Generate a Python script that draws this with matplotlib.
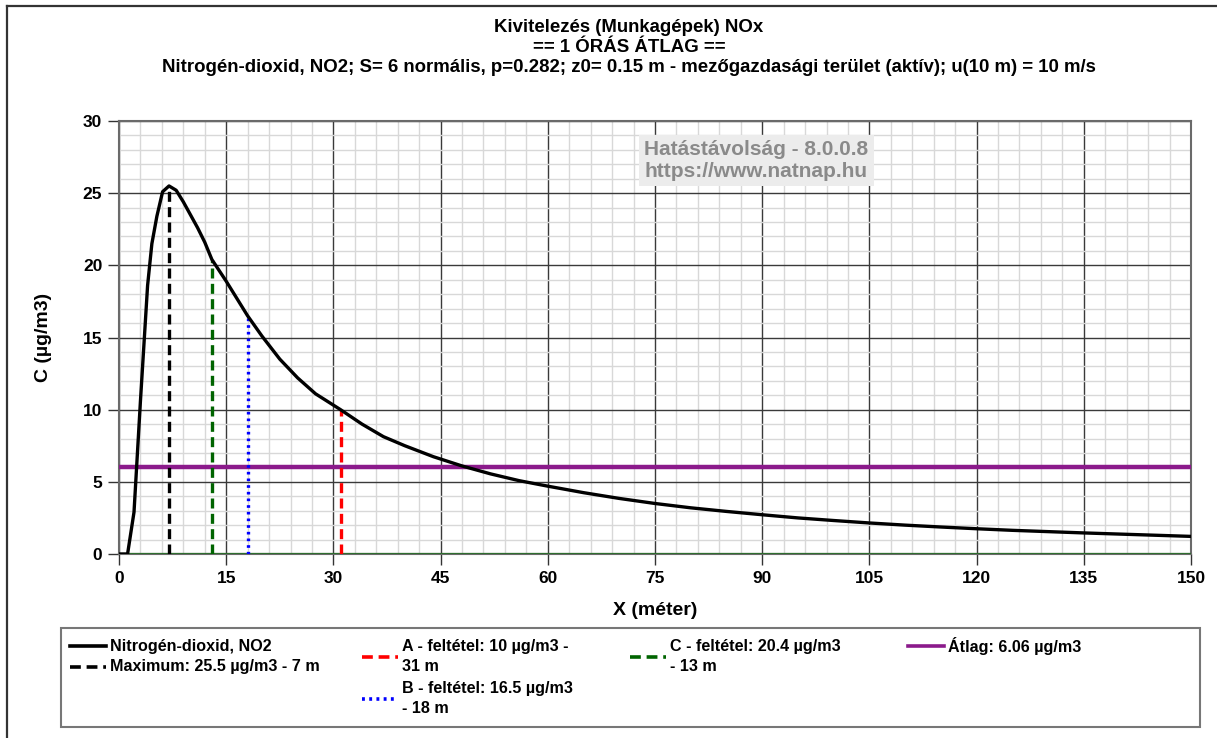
import matplotlib

matplotlib.use("Agg")
import matplotlib.pyplot as plt
from matplotlib.lines import Line2D
from matplotlib.patches import Rectangle
from matplotlib.ticker import MultipleLocator

plt.rcParams["font.family"] = ["Liberation Sans", "DejaVu Sans"]
plt.rcParams["font.weight"] = "bold"

# Concentration curve (distance in m, C in ug/m3)
dist_m = [0, 1.2, 2.1, 3.0, 4.0, 4.6, 5.3, 6.1, 7.0, 8.0, 9.0, 10.0, 11.0, 12.0,
          13.0, 15, 18, 20, 22.5, 25, 27.5, 31, 34, 37, 40, 44, 48, 52, 56, 60,
          65, 70, 75, 80, 85, 90, 95, 100, 105, 110, 115, 120, 125, 130, 135,
          140, 145, 150]
conc = [0, 0, 2.9, 10.6, 18.6, 21.5, 23.4, 25.1, 25.5, 25.2, 24.4, 23.5, 22.6,
        21.6, 20.4, 18.9, 16.5, 15.1, 13.5, 12.2, 11.1, 10.0, 9.0, 8.13, 7.5,
        6.74, 6.1, 5.55, 5.08, 4.7, 4.25, 3.85, 3.5, 3.2, 2.95, 2.72, 2.5, 2.32,
        2.15, 2.0, 1.87, 1.75, 1.64, 1.55, 1.46, 1.38, 1.3, 1.22]

max_x, max_c = 7, 25.5
cond_names = ["A", "B", "C"]
cond_x = [31, 18, 13]
cond_c = [10, 16.5, 20.4]
avg_c = 6.06

x_ticks = [0, 15, 30, 45, 60, 75, 90, 105, 120, 135, 150]
y_ticks = [0, 5, 10, 15, 20, 25, 30]

title_lines = [
    "Kivitelezés (Munkagépek) NOx",
    "== 1 ÓRÁS ÁTLAG ==",
    "Nitrogén-dioxid, NO2; S= 6 normális, p=0.282; z0= 0.15 m - "
    "mezőgazdasági terület (aktív); u(10 m) = 10 m/s",
]

W, H = 1217, 738
fig = plt.figure(figsize=(W / 100, H / 100), dpi=100)


def fx(px):
    return px / W


def fy(py):
    return 1 - py / H


# outer frame (only left/top edges visible in the reference crop)
fig.add_artist(Line2D([fx(7), fx(7)], [fy(6), 0], color="#333333", lw=1.6))
fig.add_artist(Line2D([fx(7), 1], [fy(6), fy(6)], color="#333333", lw=1.6))

ax = fig.add_axes([fx(119), fy(554), fx(1191) - fx(119), fy(121) - fy(554)])
ax.set_xlim(0, 150)
ax.set_ylim(0, 30)
ax.set_xticks(x_ticks)
ax.set_yticks(y_ticks)
ax.xaxis.set_minor_locator(MultipleLocator(3))
ax.yaxis.set_minor_locator(MultipleLocator(1))
ax.grid(which="minor", color="#d8d8d8", lw=1.0)
ax.grid(which="major", color="#3a3a3a", lw=1.0)
ax.set_axisbelow(True)
ax.tick_params(which="major", length=8, width=1, labelsize=12.5, pad=4, color="#333333")
ax.tick_params(which="minor", length=0)
for lbl in ax.get_xticklabels() + ax.get_yticklabels():
    lbl.set_fontweight("bold")
for sp in ax.spines.values():
    sp.set_color("#6a6a6a")
    sp.set_linewidth(1.5)

ax.set_xlabel("X (méter)", fontsize=14, fontweight="bold", labelpad=12)
ax.set_ylabel("C (µg/m3)", fontsize=14, fontweight="bold", labelpad=22)

# baseline, average, vertical markers, curve
ax.axhline(0, color="#2f6e2f", lw=1.6, zorder=3)
ax.axhline(avg_c, color="#8b1a8b", lw=3.2, zorder=3)
ax.plot([max_x, max_x], [0, max_c], color="black", lw=2.4, ls=(0, (3, 1.6)), zorder=4)
cond_style = {
    "A": ("#ff0000", (0, (3, 1.6))),
    "B": ("#0000ff", (0, (0.8, 1.2))),
    "C": ("#006400", (0, (3, 1.6))),
}
for name, xv, cv in zip(cond_names, cond_x, cond_c):
    col, ls = cond_style[name]
    ax.plot([xv, xv], [0, cv], color=col, lw=2.4, ls=ls, zorder=4)
ax.plot(dist_m, conc, color="black", lw=2.4, zorder=5, solid_joinstyle="round")

# watermark
ax.text(0.490, 0.955, "Hatástávolság - 8.0.0.8\nhttps://www.natnap.hu",
        transform=ax.transAxes, ha="left", va="top", fontsize=15,
        fontweight="bold", color="#8a8a8a", linespacing=1.15,
        bbox=dict(boxstyle="square,pad=0.25", fc="#ececec", ec="none"), zorder=6)

# titles
for i, line in enumerate(title_lines):
    fig.text(fx(629), fy(27 + 20.5 * i), line, ha="center", va="center",
             fontsize=13.4, fontweight="bold")

# legend box drawn by hand to match the fixed column layout
fig.add_artist(Rectangle((fx(61), fy(727)), fx(1200) - fx(61), fy(628) - fy(727),
                         fill=False, ec="#777777", lw=1.5))
legend_items = [
    ("Nitrogén-dioxid, NO2", "black", "-", 70, 646),
    ("Maximum: 25.5 µg/m3 - 7 m", "black", (0, (3, 1.6)), 70, 667),
    ("A - feltétel: 10 µg/m3 -\n31 m", "#ff0000", (0, (3, 1.6)), 362, 656.5),
    ("B - feltétel: 16.5 µg/m3\n- 18 m", "#0000ff", (0, (0.8, 1.2)), 362, 698.5),
    ("C - feltétel: 20.4 µg/m3\n- 13 m", "#006400", (0, (3, 1.6)), 630, 656.5),
    ("Átlag: 6.06 µg/m3", "#8b1a8b", "-", 908, 646),
]
for text, col, ls, x0, yc in legend_items:
    fig.add_artist(Line2D([fx(x0), fx(x0 + 36)], [fy(yc), fy(yc)], color=col,
                          lw=2.6, ls=ls))
    fig.text(fx(x0 + 40), fy(yc), text, ha="left", va="center", fontsize=11.6,
             fontweight="bold", linespacing=1.35)

fig.savefig("out.png", dpi=100)
